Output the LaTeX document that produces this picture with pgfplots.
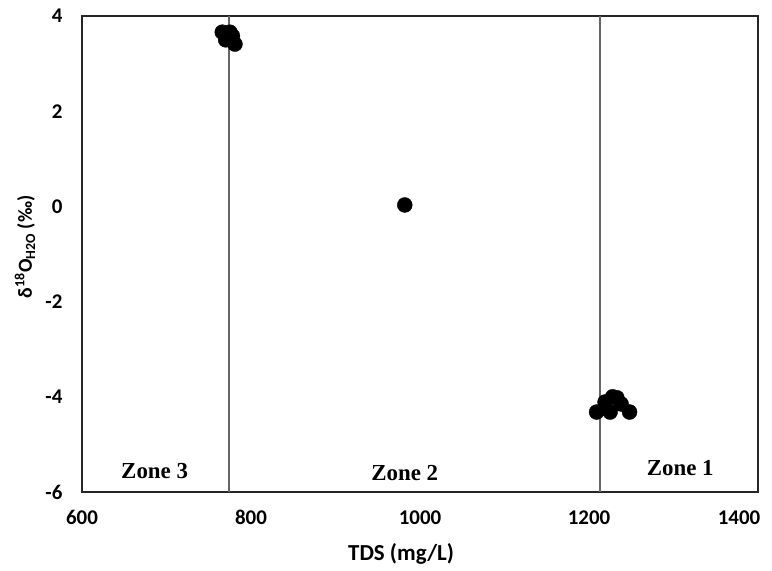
\documentclass[border=0pt]{standalone}
\usepackage{pgfplots}
\pgfplotsset{compat=1.18}
\usepackage{fontspec}
\setmainfont{Carlito}
\newfontfamily\zonefont{Liberation Serif}
\begin{document}
\begin{tikzpicture}[x=1bp,y=1bp]
\begin{axis}[
  at={(0,0)}, anchor=south west,
  scale only axis,
  width=676bp, height=476bp,
  xmin=600, xmax=1400, ymin=-6, ymax=4,
  xtick={600,800,1000,1200},
  extra x ticks={1400},
  extra x tick style={xticklabel style={xshift=-19bp}},
  ytick={-6,-4,-2,0,2,4},
  major tick length=0pt,
  axis line style={black!85, line width=2.5bp},
  /pgf/number format/assume math mode=true,
  /pgf/number format/1000 sep={},
  tick label style={font=\fontsize{21}{24}\selectfont\bfseries},
  xticklabel style={yshift=-15bp},
  yticklabel style={xshift=-16bp},
  xlabel={TDS (mg/L)},
  ylabel={δ\textsuperscript{18}O\textsubscript{H2O} (‰)},
  xlabel style={font=\fontsize{23}{26}\selectfont\bfseries, at={(axis description cs:0.472,0)}, anchor=north, yshift=-48bp},
  ylabel style={font=\fontsize{20}{24}\selectfont\bfseries, at={(axis description cs:0,0.515)}, anchor=center, xshift=0bp, yshift=57bp},
  clip=false,
]
\addplot[gray!80!black, line width=1.2bp, forget plot] coordinates {(774,-6) (774,4)};
\addplot[gray!80!black, line width=1.2bp, forget plot] coordinates {(1213,-6) (1213,4)};
\addplot[only marks, mark=*, mark size=7.5bp, black] coordinates {
 (766,3.66) (775,3.66) (774,3.5) (781,3.41) (770,3.5) (778,3.58)
 (982,0.03)
 (1209,-4.32) (1219,-4.11) (1225,-4.32) (1228,-4.0) (1233,-4.02) (1248,-4.32) (1238,-4.15)
};
\node[font=\zonefont\fontsize{23}{26}\selectfont\bfseries] at (axis cs:686,-5.55) {Zone 3};
\node[font=\zonefont\fontsize{23}{26}\selectfont\bfseries] at (axis cs:982,-5.6) {Zone 2};
\node[font=\zonefont\fontsize{23}{26}\selectfont\bfseries] at (axis cs:1308,-5.5) {Zone 1};
\end{axis}
\pgfresetboundingbox
\path[use as bounding box] (-82bp,-79bp) rectangle (690bp,492bp);
\end{tikzpicture}
\end{document}
